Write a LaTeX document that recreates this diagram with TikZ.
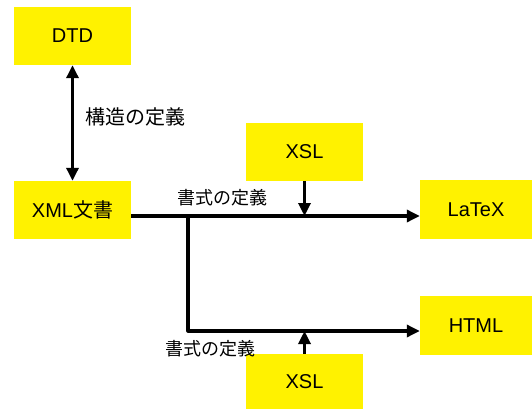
\documentclass[tikz,border=0pt]{standalone}
\usepackage{fontspec}
\setmainfont{Liberation Sans}
\newfontfamily\jp{Noto Sans CJK JP}
\usetikzlibrary{arrows.meta}

\begin{document}
\begin{tikzpicture}[x=1pt,y=-1pt,
  box/.style={fill=yellow,inner sep=0pt,minimum width=117pt,minimum height=58pt,font=\fontsize{20}{24}\selectfont},
  link/.style={line width=3.2pt,-{Triangle[length=13pt,width=12pt]}},
  lbl/.style={inner sep=0pt,anchor=west,font=\fontsize{18}{22}\selectfont\jp}]
\useasboundingbox (0,0) rectangle (532,409);
% boxes
\node [box] (dtd) at (72.5,36) {DTD};
\node [box] (xml) at (72.5,210) {XML{\jp 文書}};
\node [box] (xsltop) at (304.5,152) {XSL};
\node [box,minimum width=112pt,minimum height=59pt] (latex) at (476,209.5) {LaTeX};
\node [box,minimum width=112pt,minimum height=59pt] (html) at (476,325.5) {HTML};
\node [box,minimum height=55pt] (xslbot) at (304.5,381.5) {XSL};
% branch points
\coordinate (split) at (188,216);
\coordinate (bend) at (188,331);
% connectors
\draw [link,{Triangle[length=13pt,width=12pt]}-{Triangle[length=13pt,width=12pt]}] (dtd) -- (xml);
\draw [link] (xml.east |- split) -- (latex.west |- split);
\draw [link,line join=round] (split) -- (bend) -- (html.west |- bend);
\draw [link] (xsltop) -- (xsltop |- split);
\draw [link] (xslbot) -- (xslbot |- bend);
% labels
\node [lbl,font=\fontsize{20}{24}\selectfont\jp] (struct) at (85,117) {構造の定義};
\node [lbl] (fmttop) at (177,198) {書式の定義};
\node [lbl] (fmtbot) at (165,349) {書式の定義};
\end{tikzpicture}
\end{document}
